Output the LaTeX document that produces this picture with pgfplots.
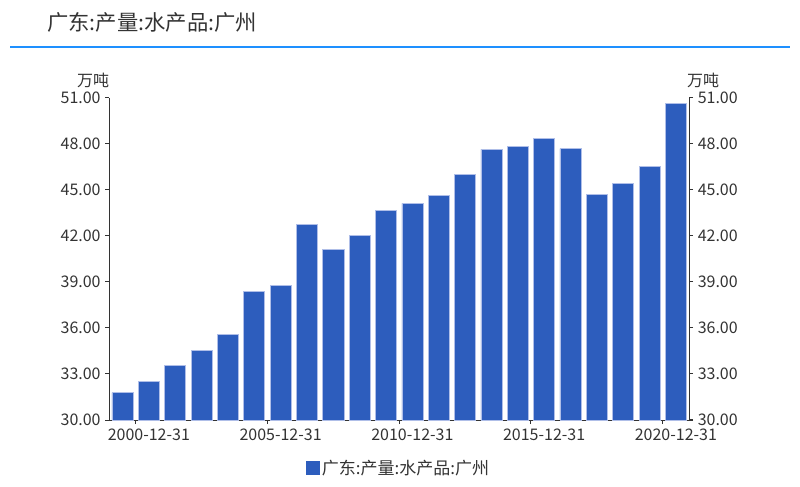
\documentclass[border=0pt]{standalone}
\usepackage{pgfplots}
\pgfplotsset{compat=1.18}
\usepackage{pgfplotstable}
\usepackage{fontspec}
\setmainfont{Noto Sans CJK SC}
\definecolor{barblue}{RGB}{45,93,189}
\definecolor{baredge}{RGB}{175,190,232}
\definecolor{txt}{RGB}{51,51,51}
\definecolor{titleline}{RGB}{30,144,255}
\pgfplotstableread{
idx val
0 31.78
1 32.52
2 33.54
3 34.54
4 35.60
5 38.40
6 38.79
7 42.72
8 41.12
9 42.01
10 43.68
11 44.11
12 44.66
13 45.98
14 47.64
15 47.81
16 48.35
17 47.68
18 44.72
19 45.40
20 46.53
21 50.63
}\datatable
\pgfplotsset{
  common/.style={
    at={(82pt,49.5pt)}, anchor=south west,
    scale only axis, width=434.8pt, height=241.7pt,
    xmin=-0.5, xmax=21.5, ymin=30, ymax=51,
    ytick={30,33,36,39,42,45,48,51},
    /pgf/number format/assume math mode=true,
    yticklabel style={/pgf/number format/fixed, /pgf/number format/fixed zerofill, /pgf/number format/precision=2},
    tick align=outside, major tick length=3pt,
    tick style={txt, line width=0.75pt},
    axis line style={txt, line width=0.75pt, -},
    tick label style={font=\fontsize{12pt}{14pt}\selectfont, text=txt},
  }
}
\begin{document}
\begin{tikzpicture}
\path[use as bounding box] (0,0) rectangle (600pt,364.5pt);
\node[anchor=west, font=\fontsize{16pt}{19pt}\selectfont, text=txt, inner sep=0] at (35.25pt,347.5pt) {广东:产量:水产品:广州};
\draw[titleline, line width=1.5pt] (7.5pt,329.25pt) -- (592.5pt,329.25pt);
\begin{axis}[common,
  axis x line*=bottom, axis y line*=left,
  xtick={0.5,5.5,10.5,15.5,20.5},
  xticklabels={2000-12-31,2005-12-31,2010-12-31,2015-12-31,2020-12-31},
  xticklabel style={xshift=9.88pt},
  legend style={at={(0.499,-0.149)}, anchor=center, draw=none, fill=none, font=\fontsize{12.75pt}{15pt}\selectfont, text=txt},
  legend image code/.code={\fill[barblue] (0pt,-4.9pt) rectangle (9.75pt,4.9pt);},
]
\addplot[ybar, bar width=0.8, fill=barblue, draw=baredge, line width=0.5pt] table[x=idx,y=val]{\datatable};
\addlegendentry{广东:产量:水产品:广州}
\end{axis}
\begin{axis}[common,
  axis y line*=right, axis x line=none,
]
\addplot[draw=none] coordinates {(0,30)};
\end{axis}
\node[font=\fontsize{12pt}{14pt}\selectfont, text=txt] at (69.75pt,304.5pt) {万吨};
\node[font=\fontsize{12pt}{14pt}\selectfont, text=txt] at (527.25pt,304.5pt) {万吨};
\end{tikzpicture}
\end{document}
